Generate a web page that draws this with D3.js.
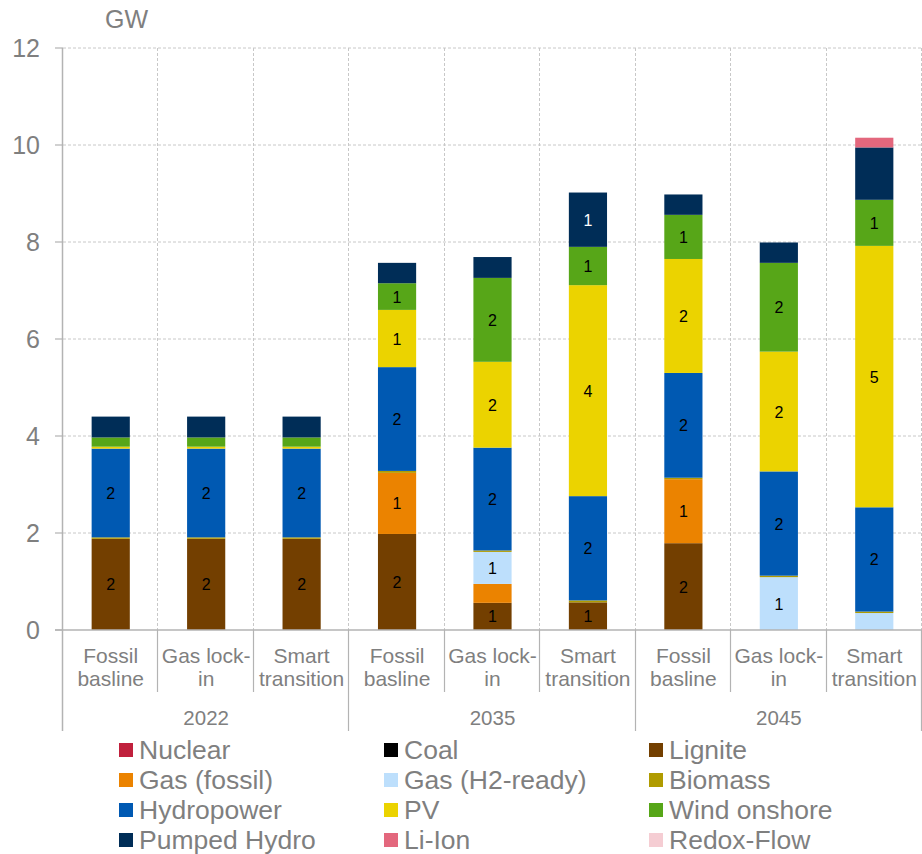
<!DOCTYPE html>
<html>
<head>
<meta charset="utf-8">
<script src="https://cdn.jsdelivr.net/npm/d3@7/dist/d3.min.js"></script>
<style>
  html, body { margin: 0; padding: 0; background: #fff; }
  svg { display: block; font-family: "Liberation Sans", Arial, sans-serif; }
</style>
</head>
<body>
<svg id="chart" width="922" height="854"></svg>
<script>
// ---- data ----
const categories = [
  ["Fossil", "basline"], ["Gas lock-", "in"], ["Smart", "transition"],
  ["Fossil", "basline"], ["Gas lock-", "in"], ["Smart", "transition"],
  ["Fossil", "basline"], ["Gas lock-", "in"], ["Smart", "transition"]
];
const groups = ["2022", "2035", "2045"];
const seriesNames = ["Nuclear", "Coal", "Lignite", "Gas (fossil)", "Gas (H2-ready)", "Biomass",
  "Hydropower", "PV", "Wind onshore", "Pumped Hydro", "Li-Ion", "Redox-Flow"];
const seriesColors = ["#C0203C", "#000000", "#733F00", "#EB8300", "#BDDFFC", "#B09B00",
  "#0059B2", "#EBD300", "#57A618", "#002D57", "#E3677D", "#F5CDD3"];
const nuclear     = [0, 0, 0, 0, 0, 0, 0, 0, 0];
const coal        = [0, 0, 0, 0, 0, 0, 0, 0, 0];
const lignite     = [1.88, 1.88, 1.88, 1.98, 0.56, 0.57, 1.79, 0, 0];
const gasFossil   = [0, 0, 0, 1.26, 0.39, 0, 1.32, 0, 0];
const gasH2       = [0, 0, 0, 0, 0.66, 0, 0, 1.09, 0.35];
const biomass     = [0.03, 0.03, 0.03, 0.04, 0.03, 0.04, 0.03, 0.03, 0.03];
const hydropower  = [1.83, 1.83, 1.83, 2.14, 2.12, 2.15, 2.16, 2.15, 2.15];
const pv          = [0.04, 0.04, 0.04, 1.18, 1.77, 4.35, 2.35, 2.47, 5.39];
const windOnshore = [0.19, 0.19, 0.19, 0.55, 1.73, 0.79, 0.91, 1.83, 0.95];
const pumpedHydro = [0.43, 0.43, 0.43, 0.42, 0.43, 1.12, 0.42, 0.42, 1.08];
const liIon       = [0, 0, 0, 0, 0, 0, 0, 0, 0.20];
const redoxFlow   = [0, 0, 0, 0, 0, 0, 0, 0, 0];
const seriesValues = [nuclear, coal, lignite, gasFossil, gasH2, biomass,
  hydropower, pv, windOnshore, pumpedHydro, liIon, redoxFlow];
const yTicks = [0, 2, 4, 6, 8, 10, 12];
const hiddenLabels = [["Pumped Hydro", 8]];
const yUnit = "GW";

// ---- layout ----
const svg = d3.select("#chart");
const mLeft = 63, mRight = 922, mTop = 48, mBottom = 630;
const textGray = "#7f7f7f", axisGray = "#b3b3b3", gridGray = "#c8c8c8";

const x = d3.scaleBand().domain(d3.range(categories.length)).range([mLeft, mRight]).padding(0);
const y = d3.scaleLinear().domain([0, 12]).range([mBottom, mTop]);
const barW = x.bandwidth() * 0.4;

// rows for stacking
const rows = categories.map((c, i) => {
  const r = { idx: i };
  seriesNames.forEach((s, k) => r[s] = seriesValues[k][i]);
  return r;
});
const stacked = d3.stack().keys(seriesNames)(rows);

// gridlines
const grid = svg.append("g");
yTicks.filter(t => t > 0).forEach(t => {
  grid.append("line").attr("x1", mLeft).attr("x2", mRight)
    .attr("y1", y(t)).attr("y2", y(t))
    .attr("stroke", gridGray).attr("stroke-width", 1).attr("stroke-dasharray", "3,2");
});
d3.range(1, categories.length + 1).forEach(i => {
  const xx = Math.round(mLeft + i * x.step()) - 0.5;
  grid.append("line").attr("x1", xx).attr("x2", xx)
    .attr("y1", mTop).attr("y2", mBottom)
    .attr("stroke", gridGray).attr("stroke-width", 1).attr("stroke-dasharray", "3,2");
});

// bars
const layers = svg.append("g").selectAll("g").data(stacked).join("g")
  .attr("fill", d => seriesColors[seriesNames.indexOf(d.key)]);
layers.selectAll("rect").data(d => d.filter(p => p[1] - p[0] > 0)).join("rect")
  .attr("x", d => x(d.data.idx) + (x.bandwidth() - barW) / 2)
  .attr("width", barW)
  .attr("y", d => y(d[1]))
  .attr("height", d => y(d[0]) - y(d[1]));

// value labels
const lbl = svg.append("g");
stacked.forEach(layer => {
  layer.forEach(p => {
    const v = p[1] - p[0];
    const r = Math.round(v);
    if (r < 1) return;
    if (hiddenLabels.some(h => h[0] === layer.key && h[1] === p.data.idx)) return;
    lbl.append("text")
      .attr("x", x(p.data.idx) + x.bandwidth() / 2)
      .attr("y", (y(p[0]) + y(p[1])) / 2 + 6)
      .attr("text-anchor", "middle")
      .attr("font-size", 16)
      .attr("fill", layer.key === "Pumped Hydro" ? "#ffffff" : "#000000")
      .text(r);
  });
});

// y axis
const yAxis = svg.append("g");
yAxis.append("line").attr("x1", mLeft - 0.5).attr("x2", mLeft - 0.5)
  .attr("y1", mTop).attr("y2", 731).attr("stroke", axisGray).attr("stroke-width", 1.5);
yTicks.forEach(t => {
  yAxis.append("line").attr("x1", mLeft - 8).attr("x2", mLeft)
    .attr("y1", y(t)).attr("y2", y(t)).attr("stroke", axisGray).attr("stroke-width", 1.2);
  yAxis.append("text").attr("x", 40).attr("y", y(t) + 9)
    .attr("text-anchor", "end").attr("font-size", 25).attr("fill", textGray).text(t);
});
svg.append("text").attr("x", 105).attr("y", 28).attr("font-size", 25)
  .attr("fill", textGray).text(yUnit);

// x axis
const xAxis = svg.append("g");
xAxis.append("line").attr("x1", mLeft - 8).attr("x2", mRight)
  .attr("y1", mBottom).attr("y2", mBottom).attr("stroke", axisGray).attr("stroke-width", 1.5);
d3.range(1, categories.length + 1).forEach(i => {
  const xx = Math.round(mLeft + i * x.step()) - 0.5;
  const isGroup = i % 3 === 0;
  xAxis.append("line").attr("x1", xx).attr("x2", xx)
    .attr("y1", mBottom).attr("y2", isGroup ? 731 : 692)
    .attr("stroke", axisGray).attr("stroke-width", 1.2);
});
categories.forEach((c, i) => {
  const t = xAxis.append("text").attr("text-anchor", "middle")
    .attr("font-size", 21).attr("fill", textGray);
  c.forEach((line, j) => {
    t.append("tspan").attr("x", x(i) + x.bandwidth() / 2)
      .attr("y", 663 + j * 23).text(line);
  });
});
groups.forEach((g, k) => {
  xAxis.append("text").attr("x", mLeft + (k * 3 + 1.5) * x.step())
    .attr("y", 725).attr("text-anchor", "middle")
    .attr("font-size", 20.5).attr("fill", textGray).text(g);
});

// legend
const legCols = [119, 384, 649];
const legRows = [750, 780, 810, 840];
const leg = svg.append("g");
seriesNames.forEach((s, k) => {
  const cx = legCols[k % 3], cy = legRows[Math.floor(k / 3)];
  leg.append("rect").attr("x", cx).attr("y", cy - 7).attr("width", 14).attr("height", 14)
    .attr("fill", seriesColors[k]);
  leg.append("text").attr("x", cx + 20).attr("y", cy + 9)
    .attr("font-size", 26.5).attr("fill", textGray).text(s);
});
</script>
</body>
</html>
